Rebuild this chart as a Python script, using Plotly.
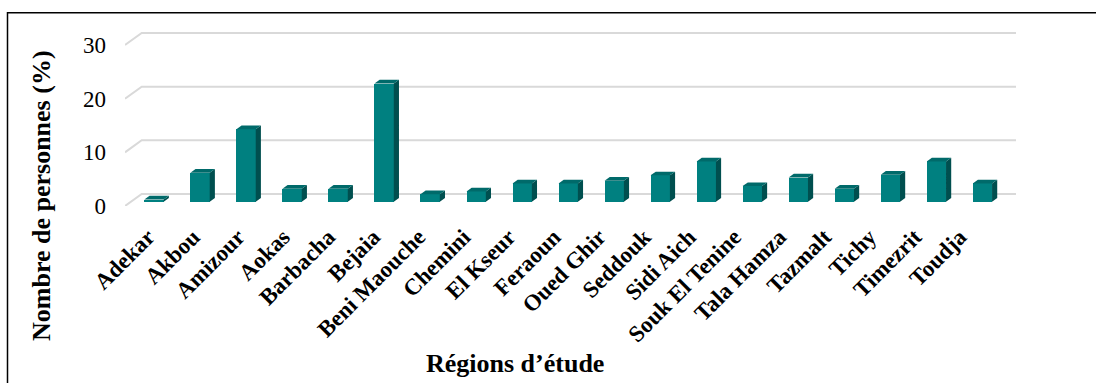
import plotly.graph_objects as go

# Percentage of people per study region
regions = [
    "Adekar", "Akbou", "Amizour", "Aokas", "Barbacha", "Bejaia", "Beni Maouche",
    "Chemini", "El Kseur", "Feraoun", "Oued Ghir", "Seddouk", "Sidi Aich",
    "Souk El Tenine", "Tala Hamza", "Tazmalt", "Tichy", "Timezrit", "Toudja",
]
values = [0.4, 5.4, 13.5, 2.4, 2.4, 22.0, 1.4, 1.9, 3.4, 3.4, 3.9, 4.9, 7.5,
          2.9, 4.5, 2.4, 5.0, 7.5, 3.4]
y_ticks = [0, 10, 20, 30]

# pseudo-3D projection: depth of the floor expressed in axis units
DEPTH_X = 0.363
DEPTH_Y = 2.24
F_FRONT, F_BACK = 0.36, 0.67   # bar front / back planes as a fraction of depth
BAR_W = 0.42
X_MIN, X_MAX = -0.5, 18.861
Y_MAX = 32.79

FRONT = "#008080"
TOP = "#006a6a"
SIDE = "#004f4f"
GRID = "#d9d9d9"
FONT = "Liberation Serif"

fig = go.Figure()

x_pos = list(range(len(regions)))
fx = [k + F_FRONT * DEPTH_X for k in x_pos]
fb = F_FRONT * DEPTH_Y
bdx = (F_BACK - F_FRONT) * DEPTH_X
bdy = (F_BACK - F_FRONT) * DEPTH_Y

# side and top faces of each column
sx, sy, tx, ty = [], [], [], []
for c, v in zip(fx, values):
    xl, xr = c - BAR_W / 2, c + BAR_W / 2
    top = fb + v
    sx += [xr, xr, xr + bdx, xr + bdx, xr, None]
    sy += [fb, top, top + bdy, fb + bdy, fb, None]
    tx += [xl, xr, xr + bdx, xl + bdx, xl, None]
    ty += [top, top, top + bdy, top + bdy, top, None]

# front faces
fig.add_trace(go.Bar(x=fx, y=values, base=[fb] * len(values), width=BAR_W,
                     marker=dict(color=FRONT, line=dict(width=0)),
                     customdata=regions,
                     hovertemplate="%{customdata}: %{y}%<extra></extra>",
                     showlegend=False))
fig.add_trace(go.Scatter(x=sx, y=sy, mode="lines", fill="toself", fillcolor=SIDE,
                         line=dict(width=0, color=SIDE), hoverinfo="skip", showlegend=False))
fig.add_trace(go.Scatter(x=tx, y=ty, mode="lines", fill="toself", fillcolor=TOP,
                         line=dict(width=0, color=TOP), hoverinfo="skip", showlegend=False))

# gridlines on the back wall, with the floor diagonal on the left (behind the columns)
grid_shapes = []
for t in y_ticks:
    path = (f"M {X_MIN},{t} L {X_MIN + DEPTH_X},{t + DEPTH_Y} "
            f"L {X_MAX},{t + DEPTH_Y}")
    grid_shapes.append(dict(type="path", xref="x", yref="y", path=path,
                            line=dict(color=GRID, width=2), layer="below"))

# outer frame
frame = dict(type="rect", xref="paper", yref="paper",
             x0=(7.5 - 125) / 891, x1=1.2, y0=-2, y1=(206 - 12.7) / 176,
             line=dict(color="black", width=1.5), layer="below")

# tick label anchors, slightly tighter than the column spacing
label_pos = [k * 0.98 for k in x_pos]

fig.update_layout(
    width=1096, height=383,
    margin=dict(l=125, r=80, t=30, b=177),
    paper_bgcolor="white", plot_bgcolor="white",
    font=dict(family=FONT, color="black"),
    xaxis=dict(range=[X_MIN, X_MAX], tickvals=label_pos, ticktext=regions, tickangle=-45,
               tickfont=dict(family=FONT, size=23, weight="bold"),
               showgrid=False, zeroline=False, showline=False,
               ticks="", ticklabelstandoff=12),
    yaxis=dict(range=[0, Y_MAX], tickvals=y_ticks, tickfont=dict(family=FONT, size=23),
               showgrid=False, zeroline=False, showline=False,
               ticks="", ticklabelstandoff=18),
    bargap=0,
    shapes=grid_shapes + [frame],
    annotations=[
        dict(text="<b>Nombre de personnes (%)</b>", textangle=-90,
             xref="paper", yref="paper", x=(41 - 125) / 891, y=(206 - 196) / 176,
             xanchor="center", yanchor="middle", showarrow=False,
             font=dict(family=FONT, size=26)),
        dict(text="<b>Régions d’étude</b>",
             xref="paper", yref="paper", x=(515 - 125) / 891, y=(206 - 363) / 176,
             xanchor="center", yanchor="middle", showarrow=False,
             font=dict(family=FONT, size=26)),
    ],
)

fig.write_html("out.html")
